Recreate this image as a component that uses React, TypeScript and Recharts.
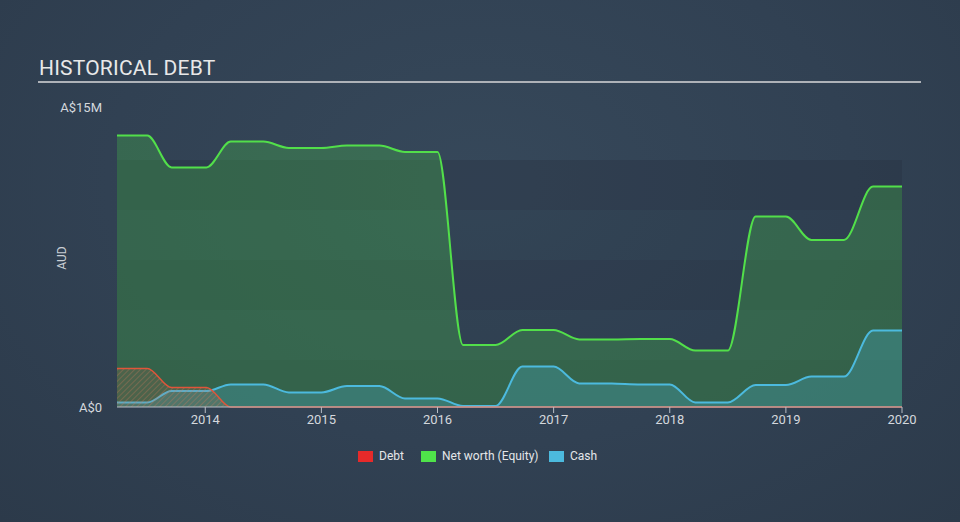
import React from "react";
import { AreaChart, Area, XAxis, YAxis, ReferenceArea } from "recharts";

// fiscal reporting points (fractional years)
const periods = [
  2013.24, 2013.5, 2013.71, 2014.01, 2014.22, 2014.5, 2014.72, 2015.0, 2015.22, 2015.5,
  2015.72, 2016.0, 2016.22, 2016.5, 2016.73, 2017.0, 2017.22, 2017.5, 2017.75, 2018.0,
  2018.22, 2018.5, 2018.74, 2019.0, 2019.22, 2019.5, 2019.75, 2020.0,
];
// values in A$ millions
const netWorth = [
  13.57, 13.57, 11.98, 11.98, 13.27, 13.27, 12.95, 12.95, 13.07, 13.07,
  12.75, 12.75, 3.1, 3.1, 3.85, 3.85, 3.38, 3.38, 3.4, 3.4,
  2.82, 2.82, 9.52, 9.52, 8.35, 8.35, 11.02, 11.02,
];
const cash = [
  0.22, 0.22, 0.8, 0.8, 1.13, 1.13, 0.73, 0.73, 1.05, 1.05,
  0.43, 0.43, 0.05, 0.05, 2.02, 2.02, 1.18, 1.17, 1.13, 1.13,
  0.23, 0.23, 1.1, 1.1, 1.52, 1.52, 3.82, 3.82,
];
const debt = [
  1.93, 1.93, 0.98, 0.98, 0, 0, 0, 0, 0, 0,
  0, 0, 0, 0, 0, 0, 0, 0, 0, 0,
  0, 0, 0, 0, 0, 0, 0, 0,
];
const yearTicks = [2014, 2015, 2016, 2017, 2018, 2019, 2020];
const yTicks = [0, 15];
const legendItems = ["Debt", "Net worth (Equity)", "Cash"];
const legendColors = ["#e62a2a", "#4fe24a", "#4cbade"];

const data = periods.map((t, i) => ({
  t,
  netWorth: netWorth[i],
  cash: cash[i],
  debt: debt[i],
}));

// background stripes behind the plot
const bands = [
  [9.85, 12.35, 0.32],
  [7.35, 9.85, 0.14],
  [4.85, 7.35, 0.32],
  [2.35, 4.85, 0.14],
  [0, 2.35, 0.32],
];
const legendLeft = [358, 421, 549];

const font = "Roboto, 'Noto Sans', sans-serif";

const App = () => {
  return (
    <div
      style={{
        position: "absolute",
        left: 0,
        top: 0,
        width: 960,
        height: 522,
        overflow: "hidden",
        fontFamily: font,
        background: "radial-gradient(ellipse at 50% 35%, #36485a 0%, #314153 55%, #2c3a4a 100%)",
      }}
    >
      <div style={{ position: "absolute", left: 39, top: 56, fontSize: 21, color: "#e8e8e8", letterSpacing: 0.2 }}>
        HISTORICAL DEBT
      </div>
      <div style={{ position: "absolute", left: 38, top: 81, width: 883, height: 2, background: "#aeb2b8" }} />
      <div
        style={{
          position: "absolute",
          left: 62,
          top: 258,
          fontSize: 12,
          color: "#c9ced4",
          transform: "translate(-50%, -50%) rotate(-90deg)",
        }}
      >
        AUD
      </div>

      <AreaChart
        width={960}
        height={522}
        data={data}
        margin={{ top: 107, right: 58, left: 57, bottom: 85 }}
        style={{ position: "absolute", left: 0, top: 0 }}
      >
        <defs>
          <pattern id="debtHatch" patternUnits="userSpaceOnUse" width="4" height="4" patternTransform="rotate(45)">
            <rect width="4" height="4" fill="#b86a50" fillOpacity={0.18} />
            <line x1="0" y1="0" x2="0" y2="4" stroke="#d07a5c" strokeWidth={1.2} strokeOpacity={0.55} />
          </pattern>
        </defs>
        {bands.map(([a, b, o], i) => (
          <ReferenceArea key={i} y1={a} y2={b} fill="#25303d" fillOpacity={o} stroke="none" ifOverflow="hidden" />
        ))}
        <XAxis
          dataKey="t"
          type="number"
          domain={[2013.24, 2020]}
          ticks={yearTicks}
          tickFormatter={(v) => String(v)}
          height={30}
          stroke="#b9bec6"
          tick={{ fill: "#d4d8dd", fontSize: 13 }}
          tickSize={6}
          allowDataOverflow
        />
        <YAxis
          type="number"
          domain={[0, 15]}
          ticks={yTicks}
          tickFormatter={(v) => (v === 0 ? "A$0" : `A$${v}M`)}
          width={60}
          axisLine={false}
          tickLine={false}
          tickMargin={9}
          tick={{ fill: "#d4d8dd", fontSize: 13 }}
        />
        <Area
          type="monotone"
          dataKey="netWorth"
          stroke="#52df4a"
          strokeWidth={2}
          fill="#4ddc48"
          fillOpacity={0.25}
          isAnimationActive={false}
          dot={false}
          activeDot={false}
        />
        <Area
          type="monotone"
          dataKey="cash"
          stroke="#4cbade"
          strokeWidth={2}
          fill="#4cbade"
          fillOpacity={0.25}
          isAnimationActive={false}
          dot={false}
          activeDot={false}
        />
        <Area
          type="monotone"
          dataKey="debt"
          stroke="#e0553a"
          strokeWidth={1.5}
          fill="url(#debtHatch)"
          fillOpacity={1}
          isAnimationActive={false}
          dot={false}
          activeDot={false}
        />
      </AreaChart>

      {legendItems.map((name, i) => (
        <div
          key={name}
          style={{
            position: "absolute",
            left: legendLeft[i],
            top: 449,
            display: "flex",
            alignItems: "center",
            fontSize: 12,
            color: "#e4e6e9",
            whiteSpace: "nowrap",
          }}
        >
          <span style={{ display: "inline-block", width: 15, height: 11, background: legendColors[i], marginRight: 6 }} />
          <span>{name}</span>
        </div>
      ))}
    </div>
  );
};

export default App;
